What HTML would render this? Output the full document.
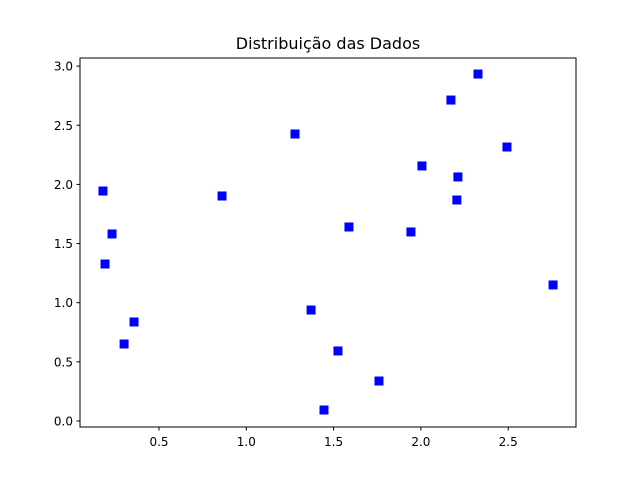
<!DOCTYPE html>
<html><head><meta charset="utf-8"><style>
body{margin:0;background:#fff}
svg{font-family:"DejaVu Sans","Liberation Sans",sans-serif}
</style></head><body>
<svg id="chart" width="640" height="480">
<rect width="640" height="480" fill="#fff"/>
<text x="328" y="49" text-anchor="middle" font-size="16" fill="#000">Distribuição das Dados</text>
<g id="marks"></g>
<g id="axes"></g>
<rect x="80" y="58" width="496" height="369" fill="none" stroke="#000" stroke-width="1"/>
</svg>
<script>
const xValues=[0.179,0.231,0.191,0.357,0.300,0.861,1.279,1.371,1.525,1.588,1.445,1.760,1.943,2.006,2.172,2.327,2.212,2.206,2.493,2.757];
const yValues=[1.944,1.581,1.327,0.837,0.651,1.902,2.426,0.938,0.592,1.640,0.093,0.338,1.598,2.156,2.713,2.933,2.063,1.868,2.316,1.150];
const xTicks=[0.5,1.0,1.5,2.0,2.5];
const yTicks=[0.0,0.5,1.0,1.5,2.0,2.5,3.0];
const NS="http://www.w3.org/2000/svg";
function sx(v){return 71.7+v*174.6;}
function sy(v){return 421-v*118.3;}
const marks=document.getElementById('marks');
xValues.forEach((x,i)=>{
  const r=document.createElementNS(NS,'rect');
  r.setAttribute('x',sx(x)-4.5);r.setAttribute('y',sy(yValues[i])-4.5);
  r.setAttribute('width',9);r.setAttribute('height',9);r.setAttribute('fill','#0000ff');
  
  
  marks.appendChild(r);
});
const axes=document.getElementById('axes');
xTicks.forEach(t=>{
  const l=document.createElementNS(NS,'line');
  l.setAttribute('x1',sx(t));l.setAttribute('x2',sx(t));l.setAttribute('y1',427);l.setAttribute('y2',430.5);l.setAttribute('stroke','#000');
  
  
  axes.appendChild(l);
  const tx=document.createElementNS(NS,'text');
  tx.setAttribute('x',sx(t));tx.setAttribute('y',446);tx.setAttribute('text-anchor','middle');tx.setAttribute('font-size','12');
  tx.textContent=t.toFixed(1);
  
  
  axes.appendChild(tx);
});
yTicks.forEach(t=>{
  const l=document.createElementNS(NS,'line');
  l.setAttribute('x1',76.5);l.setAttribute('x2',80);l.setAttribute('y1',sy(t));l.setAttribute('y2',sy(t));l.setAttribute('stroke','#000');
  
  
  axes.appendChild(l);
  const tx=document.createElementNS(NS,'text');
  tx.setAttribute('x',73);tx.setAttribute('y',sy(t)+4.5);tx.setAttribute('text-anchor','end');tx.setAttribute('font-size','12');
  tx.textContent=t.toFixed(1);
  
  
  axes.appendChild(tx);
});
</script>
</body></html>
